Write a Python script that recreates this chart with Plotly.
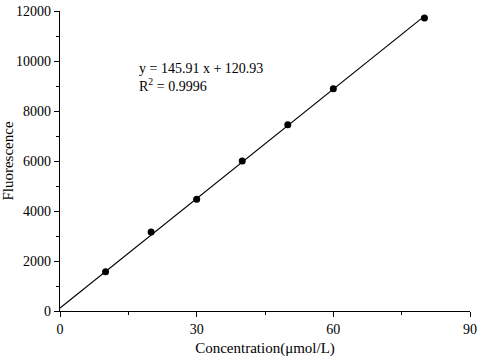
import plotly.graph_objects as go

conc = [10, 20, 30, 40, 50, 60, 80]
fluor = [1570, 3160, 4470, 6000, 7450, 8890, 11720]
fit_x = [0, 80]
fit_y = [121, 11794]
x_ticks = [0, 30, 60, 90]
x_labels = ["0", "30", "60", "90"]
y_ticks = [0, 2000, 4000, 6000, 8000, 10000, 12000]
y_labels = ["0", "2000", "4000", "6000", "8000", "10000", "12000"]
eq_text = "y = 145.91 x + 120.93<br>R<sup>2</sup> = 0.9996"

font = "Liberation Serif, Times New Roman, serif"

fig = go.Figure()
fig.add_trace(go.Scatter(x=fit_x, y=fit_y, mode="lines",
                         line=dict(color="black", width=1.2), showlegend=False))
fig.add_trace(go.Scatter(x=conc, y=fluor, mode="markers",
                         marker=dict(color="black", size=7), showlegend=False))

fig.add_annotation(x=17, y=9350, xref="x", yref="y", text=eq_text, showarrow=False,
                   xanchor="left", yanchor="middle", align="left",
                   font=dict(family=font, size=14, color="black"))

axis_common = dict(showgrid=False, zeroline=False, showline=True, linecolor="black",
                   linewidth=1.2, ticks="outside", ticklen=5, tickwidth=1.2, tickcolor="black",
                   automargin=False, ticklabeloverflow="allow",
                   tickfont=dict(family=font, size=14, color="black"))

fig.update_xaxes(range=[0, 90], tickvals=x_ticks, ticktext=x_labels,
                 minor=dict(ticks="outside", ticklen=3, tickwidth=1.2, tickcolor="black", dtick=15, tick0=0),
                 title=dict(text="Concentration(μmol/L)", font=dict(family=font, size=15, color="black"), standoff=6),
                 **axis_common)
fig.update_yaxes(range=[0, 12000], tickvals=y_ticks, ticktext=y_labels,
                 minor=dict(ticks="outside", ticklen=3, tickwidth=1.2, tickcolor="black", dtick=1000, tick0=0),
                 title=dict(text="Fluorescence", font=dict(family=font, size=15, color="black"), standoff=2),
                 **axis_common)

fig.update_layout(width=480, height=360, margin=dict(l=60, r=10, t=11, b=49),
                  plot_bgcolor="white", paper_bgcolor="white")

fig.write_html("out.html", config={"displayModeBar": False},
               post_script="document.body.style.margin='0';document.body.style.overflow='hidden';")
